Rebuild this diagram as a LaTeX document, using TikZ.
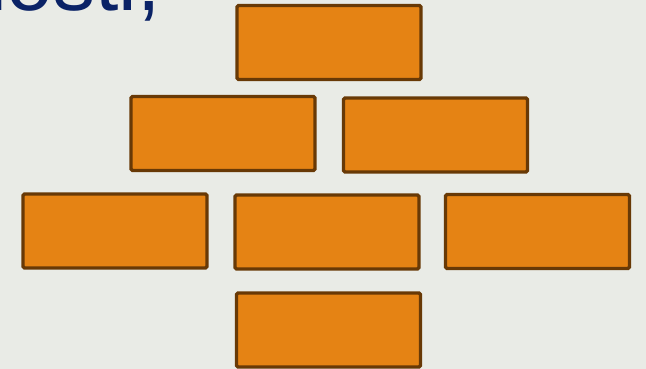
\documentclass[tikz,border=0pt]{standalone}
\usepackage{fontspec}
\setmainfont{Liberation Sans}
\definecolor{slidebg}{RGB}{233,235,230}
\definecolor{brickfill}{RGB}{229,131,20}
\definecolor{brickline}{RGB}{104,57,6}
\definecolor{titleblue}{RGB}{10,34,102}
\begin{document}
\begin{tikzpicture}[x=1pt,y=-1pt,
  brick/.style={draw=brickline,fill=brickfill,line width=3.2pt,rounded corners=1.5pt,
    minimum width=184pt,minimum height=74pt,inner sep=0pt}]
\fill[slidebg] (0,0) rectangle (646,369);
\useasboundingbox (0,0) rectangle (646,369);
\begin{scope}
\clip (0,0) rectangle (646,369);
\node[anchor=base west,inner sep=0pt,text=titleblue,font=\fontsize{84}{94}\selectfont] (t) at (-40,11) {nosti,};

\node[brick] (1) at (329,42.5) {};
\node[brick] (2) at (223,133.5) {};
\node[brick] (3) at (435.5,135) {};
\node[brick] (4) at (115,231) {};
\node[brick] (5) at (327,232) {};
\node[brick] (6) at (537.5,231.5) {};
\node[brick] (7) at (328.5,330) {};
\end{scope}
\end{tikzpicture}
\end{document}
